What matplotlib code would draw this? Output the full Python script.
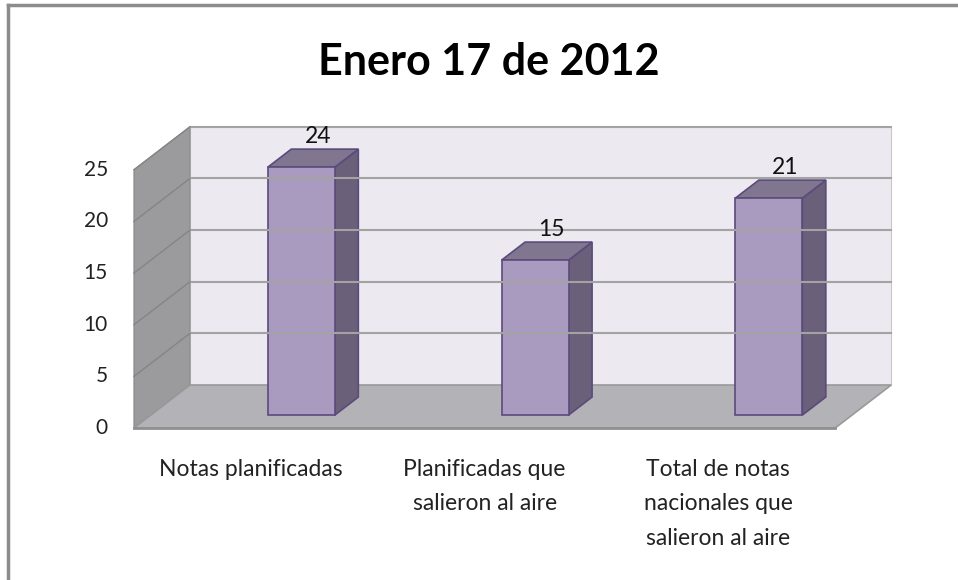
import numpy as np
import matplotlib.pyplot as plt
from matplotlib.patches import Polygon

plt.rcParams['font.family'] = ['Lato', 'DejaVu Sans']

#---------------------------------------------------------------------
# data
#---------------------------------------------------------------------
title = 'Enero 17 de 2012'
categories = ['Notas planificadas',
              'Planificadas que\nsalieron al aire',
              'Total de notas\nnacionales que\nsalieron al aire']
values = [24, 15, 21]
yticks = [0, 5, 10, 15, 20, 25]

#---------------------------------------------------------------------
# 3d look (pixels of the 958x580 picture -> data units)
#---------------------------------------------------------------------
W, H = 958, 580
px_cat = 233.75          # px per category on the front plane
px_val = 10.33           # px per value unit
x0_px, y0_px = 284.5, 428  # category 0 / value 0 on the front plane
DX = 56 / px_cat         # full depth shift in x (data)
DY = 43 / px_val         # full depth shift in y (data)
xmin, xmax = -0.644, 2.356
vmax = yticks[-1]
d_front, d_back = 0.30, 0.72
half_w = 33.5 / px_cat

def P(c, v, d):
    return (c + d * DX, v + d * DY)

fig = plt.figure(figsize=(W / 100, H / 100), dpi=100)
ax = fig.add_axes([0, 0, 1, 1])
ax.set_xlim((0 - x0_px) / px_cat, (W - x0_px) / px_cat)
ax.set_ylim((y0_px - H) / px_val, y0_px / px_val)
ax.axis('off')

# frame of the chart area (top and left only visible)
fig.add_artist(plt.Line2D([8 / W, 8 / W], [0, 1 - 5 / H], color='#8c8c8c', lw=2.5))
fig.add_artist(plt.Line2D([8 / W, 1], [1 - 5 / H, 1 - 5 / H], color='#8c8c8c', lw=2.5))

wall_c = '#eceaf0'
side_c = '#9b9a9c'
floor_c = '#b3b2b6'
grid_c = '#a3a3a3'

# back wall
ax.add_patch(Polygon([P(xmin, 0, 1), P(xmax, 0, 1), P(xmax, vmax, 1), P(xmin, vmax, 1)],
                     closed=True, fc=wall_c, ec='#c8c8c8', lw=0.8))
# left wall
ax.add_patch(Polygon([P(xmin, 0, 0), P(xmin, 0, 1), P(xmin, vmax, 1), P(xmin, vmax, 0)],
                     closed=True, fc=side_c, ec='#888888', lw=0.8))
# floor
ax.add_patch(Polygon([P(xmin, 0, 0), P(xmax, 0, 0), P(xmax, 0, 1), P(xmin, 0, 1)],
                     closed=True, fc=floor_c, ec='#999999', lw=1.2))
a, b = P(xmin, 0, 0), P(xmax, 0, 0)
ax.plot([a[0], b[0]], [a[1], b[1]], color='#8f8f8f', lw=2.0)

# gridlines
for t in yticks[1:]:
    a, b = P(xmin, t, 1), P(xmax, t, 1)
    ax.plot([a[0], b[0]], [a[1], b[1]], color=grid_c, lw=1.5)
    a, b = P(xmin, t, 0), P(xmin, t, 1)
    ax.plot([a[0], b[0]], [a[1], b[1]], color='#858585', lw=1.0)

# tick labels
for t in yticks:
    x, y = P(xmin, t, 0)
    ax.text(x - 26 / px_cat, y, str(t), ha='right', va='center', fontsize=15, color='#222222')

# bars
front_c = '#a99bc0'
right_c = '#6b6079'
top_c = '#81768f'
edge_c = '#5b4a7c'
for i, v in enumerate(values):
    l, r = i - half_w, i + half_w
    ax.add_patch(Polygon([P(r, 0, d_front), P(r, 0, d_back), P(r, v, d_back), P(r, v, d_front)],
                         closed=True, fc=right_c, ec=edge_c, lw=1.2))
    ax.add_patch(Polygon([P(l, v, d_front), P(r, v, d_front), P(r, v, d_back), P(l, v, d_back)],
                         closed=True, fc=top_c, ec=edge_c, lw=1.2))
    ax.add_patch(Polygon([P(l, 0, d_front), P(r, 0, d_front), P(r, v, d_front), P(l, v, d_front)],
                         closed=True, fc=front_c, ec=edge_c, lw=1.2))
    x, y = P(i, v, d_back)
    ax.text(x - 7 / px_cat, y + 2 / px_val, str(v), ha='center', va='bottom', fontsize=16.5, color='#111111')

# category labels
for i, lab in enumerate(categories):
    c = xmin + 0.5 + i
    ax.text(c, -31 / px_val, lab, ha='center', va='top', fontsize=16.5, color='#222222',
            linespacing=1.78)

fig.text(489 / W, 1 - 62 / H, title, ha='center', va='center', fontsize=31, fontweight='bold')

fig.savefig('out.png', dpi=100)
